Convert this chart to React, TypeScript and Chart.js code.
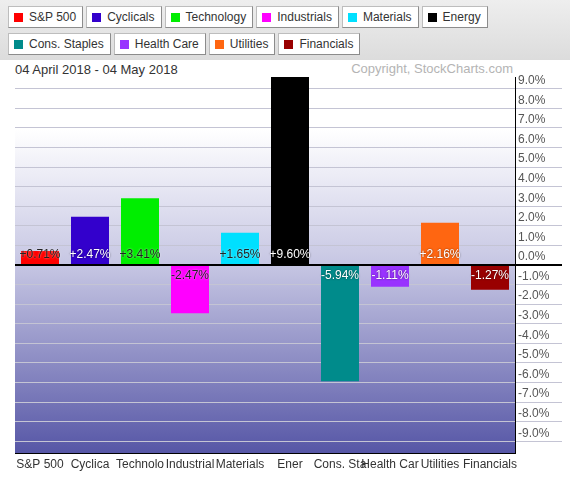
import React, { useEffect, useRef } from "react";
import { Chart, registerables } from "chart.js";

Chart.register(...registerables);

const categories = ["S&P 500", "Cyclicals", "Technology", "Industrials", "Materials", "Energy", "Cons. Staples", "Health Care", "Utilities", "Financials"];
const axisLabels = ["S&P 500", "Cyclica", "Technolo", "Industrial", "Materials", "Ener", "Cons. Sta", "Health Car", "Utilities", "Financials"];
const changes = [0.71, 2.47, 3.41, -2.47, 1.65, 9.6, -5.94, -1.11, 2.16, -1.27];
const barColors = ["#ff0000", "#3300cc", "#00ee00", "#ff00ff", "#00e0ff", "#000000", "#008b8b", "#9933ff", "#ff6611", "#990000"];
const valueTextColors = ["#222222", "#ffffff", "#222222", "#222222", "#222222", "#ffffff", "#ffffff", "#ffffff", "#ffffff", "#ffffff"];
const yTicks = [-9, -8, -7, -6, -5, -4, -3, -2, -1, 0, 1, 2, 3, 4, 5, 6, 7, 8, 9];
const yMin = -9.6;
const yMax = 9.6;
const dateRange = "04 April 2018 - 04 May 2018";
const copyright = "Copyright, StockCharts.com";
const legendRow1 = [0, 1, 2, 3, 4, 5];
const legendRow2 = [6, 7, 8, 9];

const FONT = 'Arial, "Liberation Sans", sans-serif';

function LegendItem({ i }: { i: number }) {
  return (
    <div
      style={{
        display: "inline-flex",
        alignItems: "center",
        height: 20,
        border: "1px solid #bdbdbd",
        borderRightColor: "#8c8c8c",
        borderBottomColor: "#8c8c8c",
        background: "#ffffff",
        padding: "0 6px 0 5px",
        marginRight: 3,
        fontFamily: FONT,
        fontSize: 12,
        color: "#333",
        whiteSpace: "nowrap",
        verticalAlign: "top",
      }}
    >
      <span style={{ display: "inline-block", width: 9, height: 9, background: barColors[i], marginRight: 6 }} />
      <span>{categories[i]}</span>
    </div>
  );
}

export default function App() {
  const ref = useRef<HTMLCanvasElement>(null);

  useEffect(() => {
    const canvas = ref.current;
    if (!canvas) return;

    const bgPlugin = {
      id: "plotBg",
      beforeDraw(chart: any) {
        const { ctx, chartArea: a } = chart;
        const g = ctx.createLinearGradient(0, a.top, 0, a.bottom);
        g.addColorStop(0, "#ffffff");
        g.addColorStop(0.14, "#ffffff");
        g.addColorStop(0.5, "#c6c6e3");
        g.addColorStop(1, "#5656a6");
        ctx.save();
        ctx.fillStyle = g;
        ctx.fillRect(a.left, a.top, a.right - a.left, a.bottom - a.top);
        ctx.restore();
      },
    };

    const valuePlugin = {
      id: "valueLabels",
      afterDatasetsDraw(chart: any) {
        const { ctx } = chart;
        const meta = chart.getDatasetMeta(0);
        const y0 = chart.scales.y.getPixelForValue(0);
        ctx.save();
        ctx.font = "12px " + FONT;
        ctx.textAlign = "center";
        ctx.textBaseline = "middle";
        meta.data.forEach((bar: any, i: number) => {
          const v = changes[i];
          const txt = (v > 0 ? "+" : "") + v.toFixed(2) + "%";
          const y = v >= 0 ? y0 - 10 : y0 + 11;
          const light = valueTextColors[i] === "#ffffff";
          ctx.shadowColor = light ? "rgba(0,0,0,0.6)" : "rgba(255,255,255,0.7)";
          ctx.shadowBlur = 2;
          ctx.fillStyle = valueTextColors[i];
          ctx.fillText(txt, bar.x, y);
        });
        ctx.restore();
      },
    };

    const chart = new Chart(canvas, {
      type: "bar",
      data: {
        labels: categories,
        datasets: [
          {
            data: changes,
            backgroundColor: barColors,
            borderWidth: 0,
            barPercentage: 0.76,
            categoryPercentage: 1,
          },
        ],
      },
      options: {
        animation: false,
        responsive: false,
        layout: { padding: { left: 15, top: 17, right: 0, bottom: 0 } },
        plugins: { legend: { display: false }, tooltip: { enabled: false } },
        scales: {
          x: {
            grid: { display: false, drawTicks: false },
            border: { display: true, color: "#000000", width: 1 },
            ticks: {
              color: "#333333",
              font: { size: 12, family: FONT },
              padding: 4,
              maxRotation: 0,
              autoSkip: false,
              callback: (_v: any, i: number) => axisLabels[i],
            },
            afterFit: (s: any) => {
              s.height = 25;
            },
          },
          y: {
            position: "right",
            min: yMin,
            max: yMax,
            afterBuildTicks: (s: any) => {
              s.ticks = yTicks.map((v) => ({ value: v }));
            },
            grid: {
              color: (c: any) => (c.tick && c.tick.value === 0 ? "#000000" : "#c4c4d4"),
              lineWidth: (c: any) => (c.tick && c.tick.value === 0 ? 2 : 1),
              tickLength: 47,
              drawTicks: true,
            },
            border: { display: true, color: "#000000", width: 1 },
            ticks: {
              color: "#555555",
              padding: -44,
              labelOffset: -8,
              font: { size: 12, family: FONT },
              callback: (v: any) => Number(v).toFixed(1) + "%",
            },
            afterFit: (s: any) => {
              s.width = 55;
            },
          },
        },
      },
      plugins: [bgPlugin, valuePlugin],
    } as any);

    return () => chart.destroy();
  }, []);

  return (
    <div style={{ position: "absolute", left: 0, top: 0, width: 570, height: 478, background: "#ffffff", overflow: "hidden" }}>
      <div
        style={{
          position: "absolute",
          left: 0,
          top: 0,
          width: 570,
          height: 60,
          background: "linear-gradient(to bottom, #eeeeee, #dcdcdc)",
        }}
      >
        <div style={{ position: "absolute", left: 8, top: 6, whiteSpace: "nowrap" }}>
          {legendRow1.map((i) => (
            <LegendItem key={i} i={i} />
          ))}
        </div>
        <div style={{ position: "absolute", left: 8, top: 33, whiteSpace: "nowrap" }}>
          {legendRow2.map((i) => (
            <LegendItem key={i} i={i} />
          ))}
        </div>
      </div>
      <div style={{ position: "absolute", left: 15, top: 62, fontFamily: FONT, fontSize: 13, color: "#333", whiteSpace: "nowrap" }}>
        {dateRange}
      </div>
      <div style={{ position: "absolute", right: 57, top: 61, fontFamily: FONT, fontSize: 13, color: "#b4b4b4", whiteSpace: "nowrap" }}>
        {copyright}
      </div>
      <canvas ref={ref} width={570} height={418} style={{ position: "absolute", left: 0, top: 60, width: 570, height: 418 }} />
    </div>
  );
}
